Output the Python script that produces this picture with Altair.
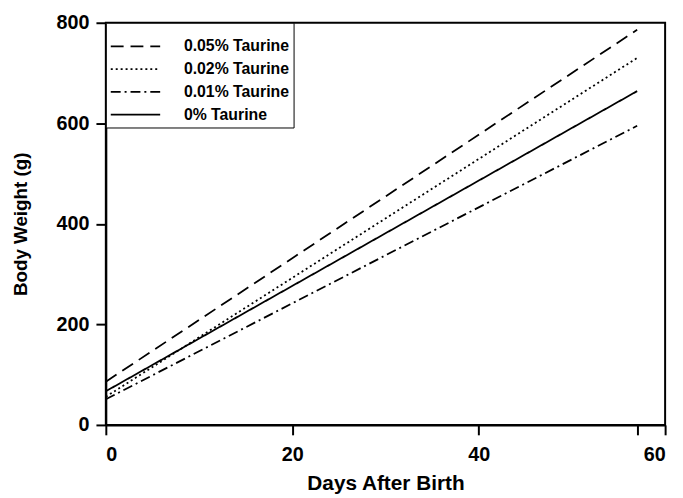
import altair as alt
import pandas as pd

series = ["0.05% Taurine", "0.02% Taurine", "0.01% Taurine", "0% Taurine"]
days_start = [0, 0, 0, 0]
days_end = [57, 57, 57, 57]
weight_start = [86, 56, 51, 67]
weight_end = [786, 730, 595, 664]
x_ticks = [0, 20, 40, 57, 60]
y_ticks = [0, 200, 400, 600, 800]

rows = []
for s, x0, x1, y0, y1 in zip(series, days_start, days_end, weight_start, weight_end):
    rows.append({"series": s, "day": x0, "weight": y0})
    rows.append({"series": s, "day": x1, "weight": y1})
df = pd.DataFrame(rows)

FONT = "Liberation Sans"

chart = alt.Chart(df).mark_line(color="black").encode(
    x=alt.X("day:Q", title="Days After Birth",
            scale=alt.Scale(domain=[0, 60], nice=False),
            axis=alt.Axis(values=x_ticks, format="d",
                          labelExpr="datum.value == 57 ? '' : datum.label")),
    y=alt.Y("weight:Q", title="Body Weight (g)",
            scale=alt.Scale(domain=[0, 800], nice=False),
            axis=alt.Axis(values=y_ticks, format="d")),
    strokeDash=alt.StrokeDash("series:N", sort=series,
        scale=alt.Scale(domain=series, range=[[13, 7], [2, 3], [10, 4, 2, 4], [1, 0]]),
        legend=alt.Legend(title=" ", titleFontSize=8, titlePadding=3,
                          orient="top-left", offset=0,
                          symbolType="stroke", symbolSize=2500,
                          symbolStrokeColor="black", clipHeight=18,
                          labelFont=FONT, labelFontSize=16, labelFontWeight="bold",
                          labelColor="black", labelOffset=23,
                          strokeColor="black", padding=4, rowPadding=5,
                          fillColor="white")),
    strokeWidth=alt.StrokeWidth("series:N", sort=series,
        scale=alt.Scale(domain=series, range=[1.8, 1.8, 1.8, 3]),
        legend=None),
).properties(
    width=566, height=407,
    padding={"left": 99, "top": 12, "right": 10, "bottom": 70},
    autosize=alt.AutoSizeParams(type="none"),
).configure_view(
    stroke="black", strokeWidth=2
).configure_axis(
    grid=False, domainColor="black", domainWidth=2,
    tickColor="black", tickWidth=2, tickSize=10,
    labelFont=FONT, labelFontSize=20, labelFontWeight="bold", labelColor="black",
    titleFont=FONT, titleFontWeight="bold", titleColor="black",
).configure_axisY(
    labelPadding=7, titlePadding=26, titleFontSize=19
).configure_axisX(
    labelPadding=10, titlePadding=8, titleFontSize=21
)

chart.save("out.html", embed_options={"renderer": "svg", "actions": False})
